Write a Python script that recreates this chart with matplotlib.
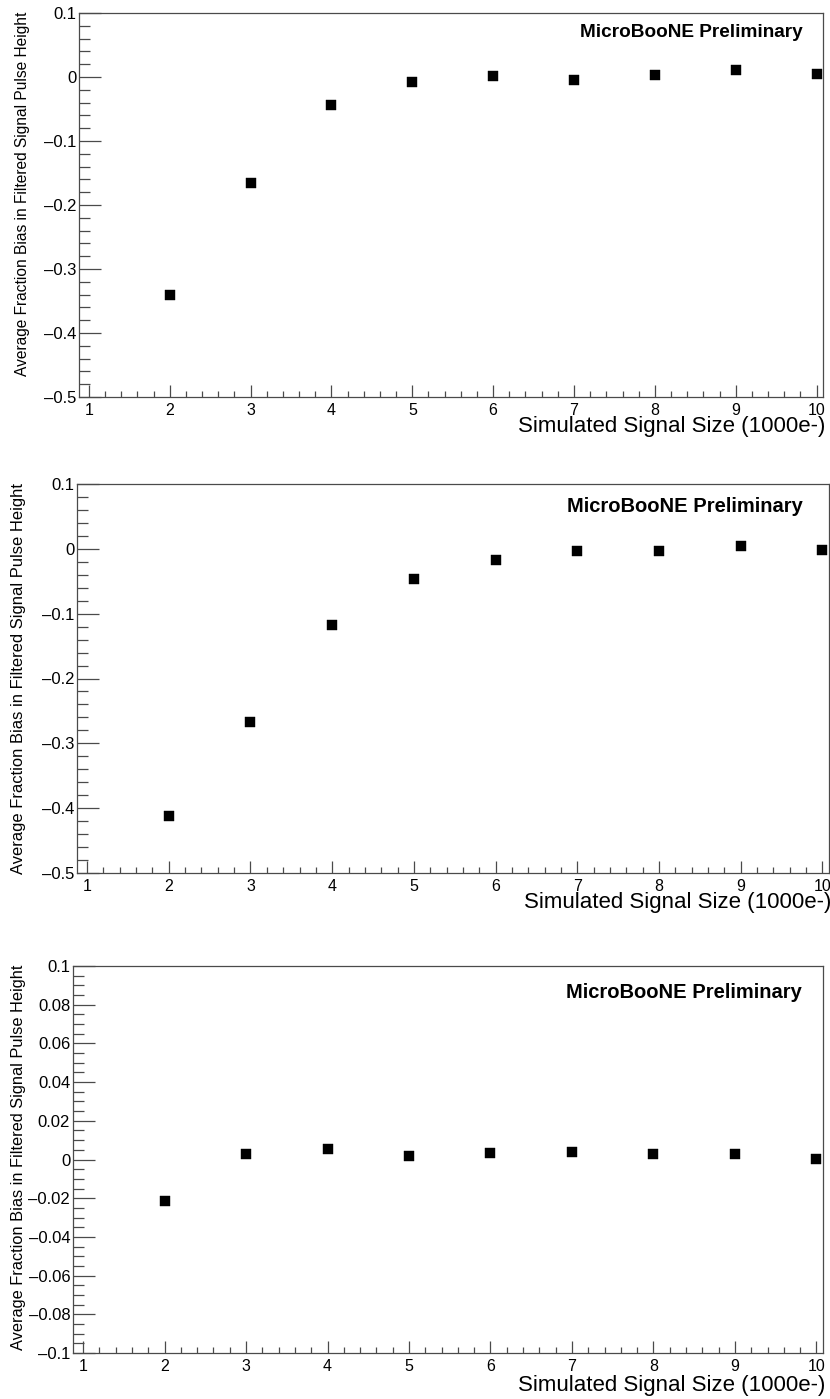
"""
Average fraction bias in filtered signal pulse height versus
simulated signal size, three stacked panels (ROOT-style look).
"""

import matplotlib
matplotlib.use("Agg")
import matplotlib.pyplot as plt
from matplotlib.ticker import MultipleLocator, FuncFormatter

# --- data ------------------------------------------------------------------
signal_size = [2, 3, 4, 5, 6, 7, 8, 9, 10]

bias_top = [-0.340, -0.165, -0.043, -0.008, 0.002, -0.004, 0.003, 0.0115, 0.005]
bias_mid = [-0.412, -0.267, -0.118, -0.047, -0.017, -0.004, -0.004, 0.004, -0.0025]
bias_bot = [-0.0216, 0.0028, 0.0056, 0.0018, 0.0036, 0.0041, 0.0031, 0.0026, 0.0003]

x_label = "Simulated Signal Size (1000e-)"
y_label = "Average Fraction Bias in Filtered Signal Pulse Height"
tag = "MicroBooNE Preliminary"

W, H = 830, 1399
plt.rcParams["font.family"] = ["Liberation Sans", "DejaVu Sans"]
FRAME = "#4a4a4a"


def fmt(v, _):
    s = "%g" % round(v, 6)
    if s == "-0":
        s = "0"
    # ROOT draws a longer dash for negative labels
    return s.replace("-", "\u2013")


def panel(fig, box, values, ylim, major, minor, tag_xy, tag_size, xlab_y, ylab_x, ylab_size):
    left, top, right, bottom = box
    ax = fig.add_axes([left / W, 1 - bottom / H, (right - left) / W, (bottom - top) / H])
    ax.plot(signal_size, values, "s", color="black", ms=7.2, mec="black", mew=0.3)

    ax.set_xlim(0.877, 10.08)
    ax.set_ylim(*ylim)

    ax.xaxis.set_major_locator(MultipleLocator(1))
    ax.xaxis.set_minor_locator(MultipleLocator(0.2))
    ax.yaxis.set_major_locator(MultipleLocator(major))
    ax.yaxis.set_minor_locator(MultipleLocator(minor))
    ax.yaxis.set_major_formatter(FuncFormatter(fmt))

    ax.tick_params(axis="both", which="both", direction="in", color=FRAME,
                   top=False, right=False, width=0.9)
    ax.tick_params(axis="y", which="major", length=15.8, pad=2, labelsize=12)
    ax.tick_params(axis="y", which="minor", length=7.9)
    ax.tick_params(axis="x", which="major", length=8.6, pad=4, labelsize=11.5)
    ax.tick_params(axis="x", which="minor", length=4.3)

    for sp in ax.spines.values():
        sp.set_color(FRAME)
        sp.set_linewidth(0.9)

    fig.text(tag_xy[0] / W, 1 - tag_xy[1] / H, tag, ha="right", va="baseline",
             fontsize=tag_size, fontweight="bold")
    fig.text((right + 2) / W, 1 - xlab_y / H, x_label, ha="right", va="baseline",
             fontsize=16)
    fig.text(ylab_x / W, 1 - (top - 1) / H, y_label, ha="center", va="top",
             rotation=90, fontsize=ylab_size)
    return ax


fig = plt.figure(figsize=(W / 100, H / 100), dpi=100)

panel(fig, (79, 13, 823, 397), bias_top, (-0.5, 0.1), 0.1, 0.02,
      (803, 37), 13.7, 432, 23, 11.2)
panel(fig, (77, 484, 829, 873), bias_mid, (-0.5, 0.1), 0.1, 0.02,
      (803, 512), 14.5, 908, 19, 11.85)
panel(fig, (73, 966, 823, 1353), bias_bot, (-0.1, 0.1), 0.02, 0.005,
      (802, 998), 14.5, 1391, 19, 11.8)

fig.savefig("out.png", dpi=100)
